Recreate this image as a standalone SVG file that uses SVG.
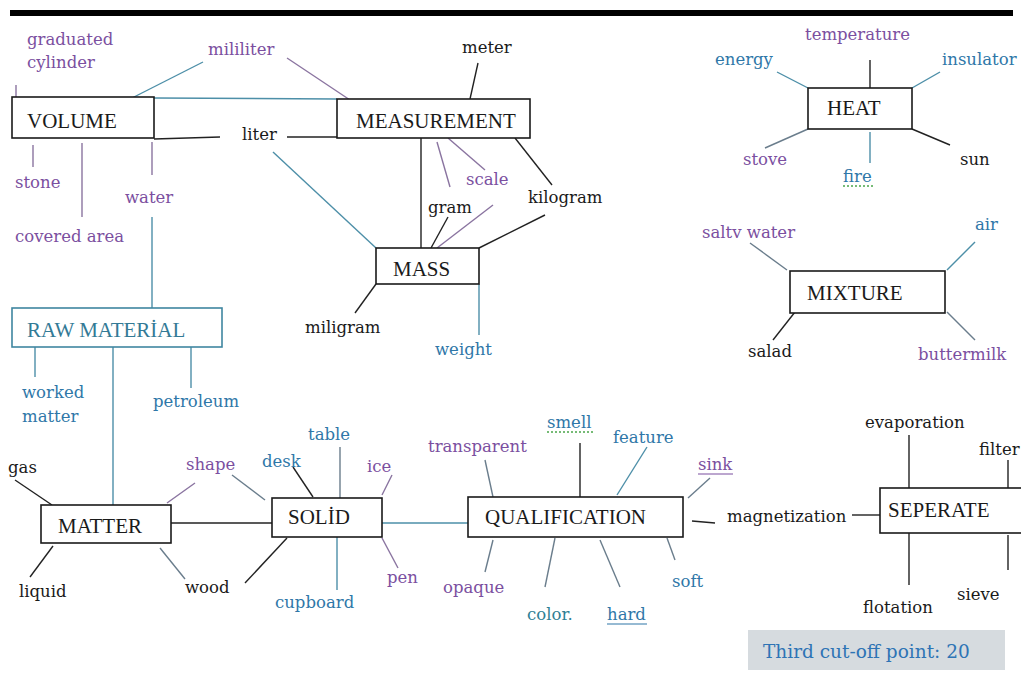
<svg xmlns="http://www.w3.org/2000/svg" width="1021" height="682" viewBox="0 0 1021 682">
<style>
.bx{fill:#fff;stroke:#1a1a1a;stroke-width:1.6}
.bxt{fill:#fff;stroke:#3f86a0;stroke-width:1.6}
.t{font-family:"Liberation Serif","Times New Roman",serif;font-size:21px;fill:#1a1a1a}
.l{font-family:"DejaVu Serif","Liberation Serif",serif;font-size:16.5px}
.k{fill:#1a1a1a}.p{fill:#7b4fa0}.b{fill:#2f77a8}.c{fill:#2f7f95}
.ck line{stroke:#222;stroke-width:1.4}
.ct line{stroke:#4d8fa8;stroke-width:1.4}
.cp line{stroke:#8a74a0;stroke-width:1.4}
.cg line{stroke:#6a7d8c;stroke-width:1.4}
</style>
<rect x="10" y="10" width="1003" height="6" fill="#000"/>
<g id="connectors">
<g class="ck">
<line x1="154" y1="139" x2="220" y2="137"/>
<line x1="287" y1="137" x2="337" y2="137"/>
<line x1="478" y1="63" x2="470" y2="99"/>
<line x1="421" y1="138" x2="421" y2="248"/>
<line x1="448" y1="217" x2="431" y2="248"/>
<line x1="515" y1="138" x2="552" y2="185"/>
<line x1="545" y1="215" x2="479" y2="248"/>
<line x1="376" y1="284" x2="355" y2="313"/>
<line x1="15" y1="480" x2="52" y2="505"/>
<line x1="53" y1="546" x2="30" y2="577"/>
<line x1="171" y1="523" x2="272" y2="523"/>
<line x1="245" y1="583" x2="287" y2="538"/>
<line x1="293" y1="467" x2="313" y2="497"/>
<line x1="580" y1="443" x2="580" y2="497"/>
<line x1="692" y1="521" x2="715" y2="523"/>
<line x1="852" y1="515" x2="880" y2="515"/>
<line x1="909" y1="435" x2="909" y2="488"/>
<line x1="1008" y1="460" x2="1008" y2="493"/>
<line x1="909" y1="533" x2="909" y2="585"/>
<line x1="1008" y1="535" x2="1008" y2="570"/>
<line x1="870" y1="60" x2="870" y2="88"/>
<line x1="912" y1="129" x2="950" y2="145"/>
<line x1="795" y1="312" x2="773" y2="340"/>
</g>
<g class="ct">
<line x1="154" y1="98" x2="337" y2="99"/>
<line x1="203" y1="62" x2="132" y2="98"/>
<line x1="273" y1="152" x2="376" y2="248"/>
<line x1="152" y1="217" x2="152" y2="308"/>
<line x1="113" y1="347" x2="113" y2="505"/>
<line x1="35" y1="347" x2="35" y2="377"/>
<line x1="191" y1="347" x2="191" y2="388"/>
<line x1="479" y1="284" x2="479" y2="335"/>
<line x1="382" y1="523" x2="468" y2="523"/>
<line x1="337" y1="537" x2="337" y2="590"/>
<line x1="647" y1="447" x2="617" y2="495"/>
<line x1="777" y1="72" x2="808" y2="88"/>
<line x1="940" y1="72" x2="912" y2="88"/>
<line x1="870" y1="132" x2="870" y2="163"/>
<line x1="975" y1="242" x2="947" y2="270"/>
</g>
<g class="cg">
<line x1="232" y1="475" x2="265" y2="500"/>
<line x1="160" y1="548" x2="185" y2="579"/>
<line x1="340" y1="447" x2="340" y2="498"/>
<line x1="485" y1="460" x2="493" y2="497"/>
<line x1="493" y1="540" x2="485" y2="572"/>
<line x1="555" y1="538" x2="545" y2="587"/>
<line x1="600" y1="540" x2="620" y2="587"/>
<line x1="667" y1="538" x2="675" y2="560"/>
<line x1="710" y1="478" x2="688" y2="498"/>
<line x1="765" y1="148" x2="808" y2="129"/>
<line x1="750" y1="243" x2="787" y2="270"/>
<line x1="947" y1="312" x2="975" y2="340"/>
</g>
<g class="cp">
<line x1="287" y1="58" x2="350" y2="100"/>
<line x1="16" y1="85" x2="16" y2="97"/>
<line x1="33" y1="145" x2="33" y2="167"/>
<line x1="82" y1="143" x2="82" y2="217"/>
<line x1="152" y1="142" x2="152" y2="175"/>
<line x1="437" y1="142" x2="450" y2="187"/>
<line x1="448" y1="138" x2="485" y2="170"/>
<line x1="493" y1="205" x2="437" y2="248"/>
<line x1="195" y1="483" x2="167" y2="503"/>
<line x1="392" y1="475" x2="382" y2="495"/>
<line x1="382" y1="538" x2="398" y2="568"/>
</g>
</g>
<g id="volume"><rect class="bx" x="12" y="97" width="142" height="41"/><text class="t" x="27" y="128">VOLUME</text></g>
<g id="measurement"><rect class="bx" x="337" y="99" width="193" height="39"/><text class="t" x="356" y="128">MEASUREMENT</text></g>
<g id="mass"><rect class="bx" x="376" y="248" width="103" height="36"/><text class="t" x="393" y="276">MASS</text></g>
<g id="raw-material"><rect class="bxt" x="12" y="308" width="210" height="39"/><text class="t" x="27" y="337" style="fill:#337a96">RAW MATERİAL</text></g>
<g id="matter"><rect class="bx" x="41" y="505" width="130" height="38"/><text class="t" x="58" y="533">MATTER</text></g>
<g id="solid"><rect class="bx" x="272" y="498" width="110" height="39"/><text class="t" x="288" y="524">SOLİD</text></g>
<g id="qualification"><rect class="bx" x="468" y="497" width="215" height="40"/><text class="t" x="485" y="524">QUALIFICATION</text></g>
<g id="seperate"><rect class="bx" x="880" y="488" width="150" height="45"/><text class="t" x="888" y="517">SEPERATE</text></g>
<g id="heat"><rect class="bx" x="808" y="88" width="104" height="41"/><text class="t" x="827" y="115">HEAT</text></g>
<g id="mixture"><rect class="bx" x="790" y="271" width="155" height="42"/><text class="t" x="807" y="300">MIXTURE</text></g>
<g id="labels" class="l">
<text class="p" x="27" y="45">graduated</text>
<text class="p" x="27" y="68">cylinder</text>
<text class="p" x="208" y="55">mililiter</text>
<text class="k" x="462" y="53">meter</text>
<text class="k" x="242" y="140">liter</text>
<text class="p" x="15" y="188">stone</text>
<text class="p" x="125" y="203">water</text>
<text class="p" x="15" y="242">covered area</text>
<text class="p" x="466" y="185">scale</text>
<text class="k" x="428" y="213">gram</text>
<text class="k" x="528" y="203">kilogram</text>
<text class="k" x="305" y="333">miligram</text>
<text class="b" x="435" y="355">weight</text>
<text class="b" x="22" y="398">worked</text>
<text class="b" x="22" y="422">matter</text>
<text class="b" x="153" y="407">petroleum</text>
<text class="k" x="8" y="473">gas</text>
<text class="k" x="19" y="597">liquid</text>
<text class="p" x="186" y="470">shape</text>
<text class="b" x="262" y="467">desk</text>
<text class="b" x="308" y="440">table</text>
<text class="p" x="367" y="472">ice</text>
<text class="k" x="185" y="593">wood</text>
<text class="p" x="387" y="583">pen</text>
<text class="b" x="275" y="608">cupboard</text>
<text class="p" x="428" y="452">transparent</text>
<text class="b" x="547" y="428">smell</text>
<text class="b" x="613" y="443">feature</text>
<text class="p" x="698" y="470">sink</text>
<text class="p" x="443" y="593">opaque</text>
<text class="c" x="527" y="620">color.</text>
<text class="b" x="607" y="620">hard</text>
<text class="b" x="672" y="587">soft</text>
<text class="k" x="727" y="522">magnetization</text>
<text class="k" x="865" y="428">evaporation</text>
<text class="k" x="979" y="455">filter</text>
<text class="k" x="863" y="613">flotation</text>
<text class="k" x="957" y="600">sieve</text>
<text class="p" x="805" y="40">temperature</text>
<text class="b" x="715" y="65">energy</text>
<text class="b" x="942" y="65">insulator</text>
<text class="p" x="743" y="165">stove</text>
<text class="b" x="843" y="182">fire</text>
<text class="k" x="960" y="165">sun</text>
<text class="p" x="702" y="238">saltv water</text>
<text class="b" x="975" y="230">air</text>
<text class="k" x="748" y="357">salad</text>
<text class="p" x="918" y="360">buttermilk</text>
</g>
<g id="underlines">
<line x1="607" y1="624" x2="647" y2="624" stroke="#2f77a8" stroke-width="1.2"/>
<line x1="698" y1="474" x2="733" y2="474" stroke="#7b4fa0" stroke-width="1.2"/>
<line x1="547" y1="432" x2="595" y2="432" stroke="#4aa54a" stroke-width="1.5" stroke-dasharray="2 2"/>
<line x1="843" y1="186" x2="875" y2="186" stroke="#4aa54a" stroke-width="1.5" stroke-dasharray="2 2"/>
</g>
<g id="cutoff">
<rect x="748" y="630" width="257" height="40" fill="#d6dbdf"/>
<text x="763" y="658" style="font-family:'DejaVu Serif','Liberation Serif',serif;font-size:18.5px;fill:#2e74b5">Third cut-off point: 20</text>
</g>
</svg>
